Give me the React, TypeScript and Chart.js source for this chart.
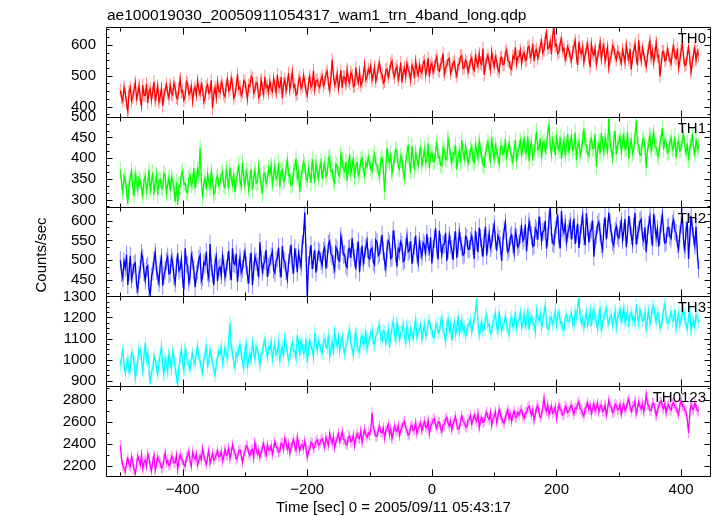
import { useEffect, useRef } from 'react';
import { Chart, registerables } from 'chart.js';

Chart.register(...registerables);

const TITLE = 'ae100019030_20050911054317_wam1_trn_4band_long.qdp';
const X_LABEL = 'Time [sec] 0 = 2005/09/11 05:43:17';
const Y_LABEL = 'Counts/sec';
const PANEL_NAMES = ['TH0', 'TH1', 'TH2', 'TH3', 'TH0123'];

// time bins: first bin time and bin width (sec)
const T_START = -500;
const T_STEP = 2;

const TH0 = [
  452, 431, 418, 463, 440, 412, 385, 448, 462, 419, 430, 455, 478, 426, 441, 468, 425, 403, 470, 437, 436, 474, 412, 449, 458, 422, 447, 480, 420, 441, 466, 415, 433, 459, 402, 437, 455, 471, 444, 428,
  470, 442, 438, 476, 461, 430, 425, 459, 490, 447, 452, 421, 433, 481, 475, 439, 446, 466, 418, 452, 463, 437, 484, 455, 440, 472, 457, 416, 428, 464, 471, 443, 449, 485, 395, 441, 462, 429, 480, 451,
  445, 479, 468, 439, 432, 470, 489, 451, 456, 492, 472, 428, 438, 466, 505, 458, 463, 436, 447, 484, 480, 453, 425, 469, 466, 498, 491, 444, 452, 478, 474, 430, 436, 487, 459, 441, 497, 462, 468, 446,
  482, 458, 449, 491, 470, 445, 503, 467, 461, 496, 428, 474, 488, 452, 476, 509, 455, 480, 512, 463, 470, 438, 443, 485, 494, 459, 466, 501, 481, 450, 437, 476, 498, 463, 472, 517, 455, 484, 486, 469,
  462, 488, 499, 467, 478, 506, 515, 474, 452, 493, 552, 501, 470, 482, 507, 459, 483, 518, 461, 497, 495, 473, 520, 486, 476, 511, 502, 465, 468, 527, 491, 478, 512, 469, 480, 503, 535, 486, 497, 521,
  510, 531, 486, 504, 527, 483, 498, 529, 541, 512, 505, 476, 482, 517, 522, 495, 514, 539, 548, 509, 496, 521, 530, 488, 507, 543, 478, 512, 525, 497, 540, 519, 511, 486, 533, 524, 492, 547, 518, 502,
  535, 516, 509, 542, 548, 503, 522, 557, 497, 531, 540, 511, 528, 549, 561, 519, 515, 537, 543, 572, 505, 526, 532, 553, 556, 508, 520, 541, 547, 514, 499, 536, 538, 562, 565, 523, 526, 550, 544, 512,
  530, 549, 558, 524, 517, 565, 547, 531, 571, 542, 536, 588, 503, 534, 552, 566, 540, 519, 577, 551, 529, 562, 548, 520, 512, 557, 560, 536, 538, 574, 583, 550, 545, 526, 521, 563, 556, 592, 539, 561,
  562, 583, 540, 566, 575, 549, 553, 591, 596, 560, 568, 604, 547, 579, 585, 557, 571, 598, 612, 574, 583, 621, 640, 588, 592, 610, 570, 631, 655, 596, 601, 572, 578, 606, 620, 581, 589, 553, 567, 594,
  582, 561, 548, 577, 596, 614, 563, 535, 610, 579, 571, 594, 544, 568, 588, 603, 559, 528, 602, 575, 566, 589, 538, 560, 581, 607, 555, 584, 598, 547, 570, 592, 527, 556, 563, 598, 590, 566, 552, 579,
  575, 556, 541, 584, 566, 543, 598, 570, 552, 587, 520, 559, 580, 602, 561, 534, 615, 573, 548, 590, 572, 549, 530, 566, 589, 612, 558, 581, 543, 571, 607, 562, 566, 498, 535, 577, 579, 548, 553, 586,
  568, 551, 540, 579, 597, 562, 555, 588, 526, 549, 582, 605, 560, 533, 538, 571, 592, 556, 512, 545, 571, 590, 550, 578, 566,
];

const TH1 = [
  372, 341, 318, 356, 345, 322, 290, 337, 352, 368, 330, 309, 361, 344, 325, 351, 343, 329, 310, 347, 356, 320, 334, 372, 322, 340, 365, 318, 338, 359, 312, 346, 349, 331, 327, 364, 358, 315, 336, 353,
  320, 354, 347, 328, 295, 341, 288, 333, 331, 360, 368, 337, 340, 319, 316, 352, 359, 335, 344, 376, 327, 349, 372, 358, 425, 346, 305, 339, 351, 324, 362, 343, 329, 366, 346, 312, 318, 350, 357, 334,
  341, 359, 366, 334, 329, 372, 352, 326, 378, 350, 337, 363, 318, 347, 360, 385, 345, 331, 390, 357, 333, 368, 356, 325, 349, 374, 323, 351, 371, 340, 342, 379, 358, 336, 314, 362, 364, 339, 347, 376,
  362, 383, 338, 357, 381, 349, 354, 389, 329, 367, 372, 343, 348, 376, 395, 358, 360, 334, 337, 371, 376, 399, 352, 365, 318, 353, 369, 391, 384, 350, 345, 375, 361, 340, 398, 370, 341, 387, 366, 352,
  375, 392, 349, 373, 388, 355, 362, 398, 404, 368, 371, 347, 340, 386, 382, 361, 357, 411, 396, 374, 368, 392, 345, 379, 410, 363, 377, 402, 352, 384, 389, 358, 366, 395, 401, 372, 358, 389, 380, 403,
  392, 375, 368, 401, 410, 387, 383, 364, 356, 395, 401, 378, 318, 372, 425, 396, 389, 412, 363, 384, 398, 422, 416, 380, 374, 405, 395, 369, 352, 391, 408, 433, 386, 370, 430, 398, 371, 414, 399, 383,
  406, 429, 383, 401, 421, 389, 397, 436, 375, 409, 414, 391, 392, 418, 438, 402, 404, 385, 381, 425, 419, 398, 396, 447, 427, 406, 388, 413, 410, 432, 373, 399, 416, 390, 444, 417, 399, 428, 411, 387,
  402, 418, 428, 395, 389, 432, 417, 401, 441, 420, 405, 385, 380, 414, 423, 439, 411, 394, 452, 416, 397, 431, 419, 403, 386, 427, 430, 409, 413, 446, 398, 421, 436, 412, 407, 390, 421, 444, 392, 415,
  425, 442, 404, 431, 446, 412, 418, 453, 392, 426, 437, 401, 413, 439, 465, 420, 422, 448, 399, 435, 441, 416, 427, 463, 480, 430, 410, 445, 433, 407, 456, 428, 419, 451, 398, 424, 444, 409, 428, 458,
  412, 437, 451, 419, 427, 462, 395, 428, 440, 406, 418, 445, 472, 433, 431, 411, 405, 439, 447, 424, 423, 458, 380, 421, 436, 410, 461, 434, 414, 449, 429, 417, 498, 438, 420, 401, 443, 466, 409, 432,
  438, 452, 415, 440, 455, 421, 426, 464, 399, 431, 443, 412, 422, 449, 491, 435, 430, 407, 408, 442, 447, 428, 376, 419, 433, 456, 418, 440, 462, 427, 425, 411, 404, 436, 450, 473, 421, 444, 437, 413,
  416, 439, 449, 420, 427, 452, 401, 433, 441, 418, 423, 446, 458, 429, 412, 436, 395, 424, 438, 455, 426, 409, 447, 421, 430,
];

const TH2 = [
  500, 468, 455, 497, 482, 514, 438, 471, 511, 452, 467, 489, 493, 440, 425, 463, 478, 517, 505, 470, 449, 481, 486, 429, 412, 458, 472, 499, 520, 474, 461, 443, 490, 507, 436, 462, 475, 498, 509, 466,
  468, 507, 496, 459, 442, 484, 518, 473, 479, 501, 453, 426, 530, 491, 487, 444, 461, 513, 499, 476, 432, 465, 475, 503, 512, 448, 458, 494, 489, 521, 470, 455, 541, 482, 466, 437, 494, 510, 447, 478,
  483, 462, 511, 490, 457, 479, 498, 524, 472, 450, 530, 493, 489, 516, 445, 481, 506, 468, 478, 502, 521, 487, 463, 441, 495, 519, 437, 474, 510, 496, 484, 457, 545, 503, 471, 489, 499, 526, 458, 483,
  490, 509, 522, 476, 468, 499, 505, 532, 481, 457, 536, 502, 497, 473, 452, 494, 514, 539, 488, 466, 530, 507, 470, 518, 503, 484, 541, 563, 620, 520, 409, 487, 512, 538, 478, 501, 525, 469, 496, 523,
  519, 498, 487, 524, 532, 479, 503, 541, 548, 517, 511, 490, 476, 533, 526, 501, 498, 560, 541, 514, 515, 488, 482, 527, 530, 506, 556, 520, 505, 477, 522, 547, 470, 509, 537, 494, 512, 531, 549, 507,
  503, 526, 531, 496, 489, 551, 545, 512, 518, 537, 564, 523, 497, 480, 527, 549, 542, 504, 508, 575, 553, 518, 484, 529, 522, 546, 538, 497, 501, 533, 559, 521, 525, 548, 491, 517, 536, 562, 515, 494,
  548, 527, 510, 544, 537, 519, 566, 534, 521, 558, 492, 529, 553, 581, 530, 502, 575, 543, 514, 539, 541, 569, 498, 526, 562, 540, 527, 501, 550, 573, 506, 532, 571, 548, 535, 513, 517, 560, 556, 528,
  528, 549, 561, 537, 503, 574, 547, 520, 582, 556, 533, 509, 555, 585, 512, 543, 568, 531, 541, 570, 590, 551, 524, 562, 553, 536, 498, 547, 576, 595, 545, 521, 530, 558, 564, 540, 519, 572, 557, 533,
  540, 565, 583, 549, 556, 590, 522, 561, 597, 576, 562, 535, 538, 581, 574, 552, 610, 586, 548, 571, 575, 599, 529, 558, 602, 633, 565, 544, 540, 577, 588, 615, 553, 530, 624, 581, 570, 593, 545, 567,
  579, 597, 552, 576, 605, 541, 566, 592, 531, 564, 590, 612, 560, 538, 618, 584, 545, 571, 577, 600, 509, 552, 563, 589, 596, 570, 541, 527, 582, 608, 553, 579, 620, 593, 568, 546, 537, 574, 585, 562,
  556, 579, 598, 551, 572, 604, 533, 566, 611, 587, 562, 541, 585, 619, 540, 563, 576, 598, 603, 558, 549, 583, 520, 565, 588, 609, 563, 536, 617, 590, 557, 578, 534, 561, 592, 614, 569, 543, 546, 581,
  583, 561, 555, 592, 602, 574, 568, 541, 528, 566, 590, 613, 548, 527, 575, 597, 503, 559, 612, 580, 560, 537, 584, 522, 478,
];

const TH3 = [
  970, 1012, 1048, 968, 935, 979, 1002, 941, 958, 1033, 1025, 986, 912, 957, 989, 1055, 1040, 997, 947, 1016, 1080, 1003, 1030, 961, 885, 944, 952, 1019, 998, 963, 930, 992, 1021, 1064, 975, 928, 1006, 981, 943, 1027,
  992, 955, 1037, 1008, 961, 921, 882, 964, 1015, 1049, 984, 947, 1052, 1019, 1001, 969, 953, 1006, 1029, 991, 978, 1035, 1063, 1011, 995, 958, 940, 1002, 1018, 1071, 970, 993, 1044, 1016, 987, 951, 926, 979, 1010, 1039,
  1025, 1061, 980, 1009, 1058, 1022, 1004, 1098, 1175, 1052, 1036, 985, 962, 1031, 1017, 1053, 1070, 1026, 991, 960, 1043, 1077, 958, 1004, 1028, 994, 1081, 1040, 1002, 1063, 1049, 1015, 973, 1024, 1033, 1072, 1096, 1038, 1012, 1059,
  1047, 1083, 1002, 1039, 1074, 1021, 1029, 1097, 988, 1045, 1061, 1014, 1105, 1068, 1034, 996, 1008, 1059, 1080, 1041, 1042, 1006, 1117, 1073, 1019, 1088, 1066, 1030, 1037, 1099, 985, 1054, 1092, 1063, 1050, 1012, 1128, 1079, 1043, 1087,
  1071, 1042, 1030, 1089, 1098, 1063, 1056, 1118, 1012, 1048, 1085, 1026, 1133, 1094, 1062, 1107, 1040, 1075, 1109, 1058, 1027, 1066, 1077, 1123, 1145, 1081, 1054, 1019, 1093, 1130, 1068, 1044, 1036, 1101, 1114, 1072, 1080, 1139, 1051, 1090,
  1096, 1124, 1140, 1079, 1072, 1113, 1118, 1154, 1165, 1101, 1088, 1137, 1131, 1075, 1102, 1145, 1057, 1109, 1149, 1183, 1115, 1092, 1178, 1141, 1093, 1126, 1136, 1168, 1110, 1083, 1162, 1120, 1084, 1147, 1127, 1099, 1151, 1190, 1106, 1134,
  1139, 1163, 1098, 1131, 1166, 1112, 1124, 1181, 1187, 1150, 1143, 1105, 1108, 1159, 1171, 1127, 1132, 1174, 1201, 1144, 1117, 1085, 1158, 1193, 1135, 1162, 1090, 1140, 1176, 1119, 1146, 1208, 1122, 1155, 1190, 1137, 1152, 1110, 1128, 1169,
  1163, 1186, 1131, 1158, 1197, 1222, 1290, 1171, 1116, 1149, 1180, 1136, 1145, 1201, 1212, 1159, 1168, 1125, 1127, 1184, 1195, 1219, 1155, 1133, 1230, 1178, 1138, 1162, 1174, 1209, 1162, 1141, 1118, 1192, 1203, 1156, 1170, 1227, 1149, 1183,
  1188, 1223, 1152, 1179, 1215, 1160, 1176, 1241, 1141, 1194, 1207, 1171, 1169, 1130, 1235, 1198, 1185, 1216, 1153, 1183, 1220, 1258, 1178, 1149, 1143, 1202, 1196, 1167, 1192, 1231, 1164, 1209, 1228, 1174, 1181, 1145, 1139, 1197, 1210, 1186,
  1182, 1203, 1219, 1174, 1160, 1229, 1201, 1246, 1295, 1208, 1173, 1195, 1148, 1187, 1226, 1163, 1190, 1234, 1157, 1212, 1238, 1191, 1179, 1144, 1205, 1251, 1133, 1176, 1197, 1222, 1244, 1188, 1168, 1206, 1211, 1165, 1185, 1230, 1152, 1196,
  1216, 1240, 1179, 1204, 1245, 1177, 1193, 1228, 1158, 1212, 1226, 1189, 1201, 1173, 1262, 1217, 1170, 1236, 1210, 1184, 1187, 1225, 1137, 1194, 1231, 1168, 1195, 1249, 1253, 1206, 1178, 1221, 1214, 1150, 1160, 1197, 1239, 1266, 1198, 1175,
  1172, 1208, 1225, 1183, 1189, 1236, 1150, 1191, 1217, 1164, 1196, 1220, 1242, 1186, 1167, 1145, 1204, 1232, 1138, 1174, 1185, 1156, 1213, 1198, 1178,
];

const TH0123 = [
  2385, 2262, 2205, 2178, 2150, 2231, 2268, 2214, 2195, 2284, 2242, 2167, 2130, 2209, 2290, 2251, 2215, 2303, 2176, 2236, 2253, 2199, 2310, 2272, 2198, 2154, 2237, 2295, 2164, 2221, 2282, 2246, 2226, 2183, 2190, 2261, 2318, 2229, 2249, 2204,
  2215, 2289, 2273, 2228, 2232, 2295, 2168, 2246, 2301, 2263, 2254, 2212, 2197, 2277, 2286, 2331, 2240, 2198, 2325, 2279, 2262, 2305, 2208, 2247, 2294, 2256, 2357, 2302, 2249, 2216, 2281, 2340, 2226, 2269, 2312, 2253, 2270, 2301, 2338, 2285,
  2289, 2331, 2246, 2283, 2352, 2297, 2305, 2362, 2268, 2320, 2391, 2344, 2317, 2262, 2279, 2336, 2346, 2300, 2233, 2291, 2328, 2385, 2374, 2318, 2295, 2342, 2351, 2273, 2412, 2356, 2310, 2338, 2276, 2325, 2367, 2402, 2329, 2294, 2388, 2347,
  2342, 2384, 2305, 2356, 2419, 2372, 2363, 2327, 2328, 2405, 2396, 2351, 2449, 2410, 2352, 2395, 2314, 2367, 2408, 2438, 2377, 2342, 2460, 2403, 2339, 2381, 2391, 2357, 2425, 2364, 2280, 2332, 2348, 2415, 2402, 2359, 2371, 2421, 2436, 2388,
  2398, 2431, 2447, 2409, 2372, 2458, 2425, 2386, 2491, 2437, 2406, 2469, 2368, 2415, 2453, 2493, 2419, 2452, 2510, 2440, 2437, 2402, 2390, 2461, 2471, 2418, 2428, 2480, 2385, 2444, 2494, 2457, 2446, 2517, 2413, 2475, 2528, 2482, 2459, 2501,
  2480, 2523, 2680, 2548, 2515, 2472, 2467, 2529, 2560, 2506, 2498, 2544, 2453, 2517, 2539, 2574, 2484, 2532, 2447, 2503, 2560, 2526, 2511, 2566, 2476, 2520, 2549, 2588, 2605, 2545, 2522, 2478, 2487, 2553, 2571, 2519, 2533, 2590, 2494, 2541,
  2559, 2590, 2518, 2565, 2601, 2556, 2547, 2609, 2493, 2553, 2582, 2617, 2626, 2572, 2541, 2598, 2594, 2546, 2509, 2568, 2573, 2621, 2640, 2585, 2561, 2603, 2528, 2579, 2612, 2647, 2575, 2534, 2536, 2599, 2653, 2611, 2588, 2562, 2549, 2614,
  2621, 2654, 2578, 2612, 2660, 2628, 2604, 2673, 2550, 2609, 2636, 2595, 2598, 2658, 2683, 2637, 2619, 2680, 2567, 2626, 2647, 2689, 2592, 2642, 2711, 2665, 2633, 2601, 2586, 2650, 2668, 2710, 2627, 2664, 2603, 2656, 2695, 2640, 2641, 2685,
  2662, 2698, 2709, 2655, 2631, 2677, 2686, 2724, 2740, 2693, 2658, 2706, 2612, 2668, 2721, 2745, 2683, 2639, 2652, 2730, 2812, 2716, 2697, 2751, 2664, 2710, 2738, 2676, 2689, 2734, 2633, 2692, 2755, 2711, 2702, 2660, 2671, 2739, 2726, 2684,
  2695, 2731, 2748, 2706, 2669, 2725, 2717, 2756, 2781, 2714, 2703, 2679, 2650, 2719, 2735, 2770, 2709, 2747, 2672, 2716, 2762, 2700, 2724, 2768, 2686, 2738, 2750, 2691, 2701, 2752, 2659, 2713, 2793, 2740, 2731, 2682, 2690, 2759, 2744, 2708,
  2712, 2754, 2668, 2720, 2757, 2699, 2726, 2771, 2805, 2740, 2693, 2733, 2739, 2786, 2674, 2722, 2778, 2736, 2715, 2762, 2686, 2744, 2843, 2759, 2747, 2700, 2701, 2767, 2763, 2718, 2652, 2705, 2729, 2774, 2788, 2731, 2716, 2760, 2681, 2737,
  2754, 2721, 2703, 2762, 2770, 2735, 2728, 2689, 2664, 2749, 2795, 2742, 2739, 2706, 2690, 2612, 2498, 2680, 2752, 2719, 2711, 2768, 2735, 2702, 2695,
];

const SERIES = [TH0, TH1, TH2, TH3, TH0123];
// 1-sigma error per bin for each band (counts/sec)
const ERR = [22, 20, 23, 33, 50];

const X_RANGE = [-523, 448];
const X_MAJOR = [-400, -200, 0, 200, 400];
const X_MINOR = [-500, -300, -100, 100, 300];

const Y_RANGES = [
  [367, 658],
  [283, 500],
  [409, 635],
  [874, 1300],
  [2110, 2920],
];
const Y_MAJOR = [
  [400, 500, 600],
  [300, 350, 400, 450, 500],
  [450, 500, 550, 600],
  [900, 1000, 1100, 1200, 1300],
  [2200, 2400, 2600, 2800],
];
const Y_MINOR_STEP = [25, 50 / 3, 50 / 3, 25, 100];

const COLORS = ['#ff0000', '#00ff00', '#0000ff', '#00ffff', '#ff00ff'];
const ERR_COLORS = [
  'rgba(255,0,0,0.45)',
  'rgba(0,255,0,0.45)',
  'rgba(0,0,255,0.45)',
  'rgba(0,255,255,0.45)',
  'rgba(255,0,255,0.45)',
];

const FONT = 'Liberation Sans, Arial, Helvetica, sans-serif';

const qdpPlugin = {
  id: 'qdpFrame',
  beforeDatasetsDraw(chart: any) {
    const ctx = chart.ctx;
    const xs = chart.scales.x;
    SERIES.forEach((vals, k) => {
      const ys = chart.scales['y' + k];
      ctx.save();
      ctx.beginPath();
      ctx.rect(xs.left, ys.top, xs.right - xs.left, ys.bottom - ys.top);
      ctx.clip();
      ctx.strokeStyle = ERR_COLORS[k];
      ctx.lineWidth = 1;
      ctx.beginPath();
      vals.forEach((v, i) => {
        const px = xs.getPixelForValue(T_START + i * T_STEP);
        ctx.moveTo(px, ys.getPixelForValue(v + ERR[k]));
        ctx.lineTo(px, ys.getPixelForValue(v - ERR[k]));
      });
      ctx.stroke();
      ctx.restore();
    });
  },
  afterDraw(chart: any) {
    const ctx = chart.ctx;
    const xs = chart.scales.x;
    const L = Math.round(xs.left) + 0.5;
    const R = Math.round(xs.right) - 0.5;
    ctx.save();
    ctx.strokeStyle = '#000';
    ctx.lineWidth = 1;
    for (let k = 0; k < 5; k++) {
      const ys = chart.scales['y' + k];
      const T = Math.round(ys.top) + 0.5;
      const B = Math.round(ys.bottom) + 0.5;
      ctx.beginPath();
      ctx.rect(L, T, R - L, B - T);
      const xt = (v: number, len: number) => {
        const px = Math.round(xs.getPixelForValue(v)) + 0.5;
        ctx.moveTo(px, T);
        ctx.lineTo(px, T + len);
        ctx.moveTo(px, B);
        ctx.lineTo(px, B - len);
      };
      X_MAJOR.forEach((v) => xt(v, 7));
      X_MINOR.forEach((v) => xt(v, 4));
      const yt = (v: number, len: number) => {
        const py = Math.round(ys.getPixelForValue(v)) + 0.5;
        ctx.moveTo(L, py);
        ctx.lineTo(L + len, py);
        ctx.moveTo(R, py);
        ctx.lineTo(R - len, py);
      };
      const [mn, mx] = Y_RANGES[k];
      const st = Y_MINOR_STEP[k];
      const base = Y_MAJOR[k][0];
      for (let j = Math.ceil((mn - base) / st - 1e-6); base + j * st <= mx + 1e-6; j++) {
        const v = base + j * st;
        const isMajor = Y_MAJOR[k].some((m) => Math.abs(m - v) < 1e-6);
        yt(v, isMajor ? 6 : 3);
      }
      ctx.stroke();

      ctx.fillStyle = '#000';
      ctx.font = `15px ${FONT}`;
      ctx.textAlign = 'right';
      ctx.textBaseline = 'alphabetic';
      ctx.fillText(PANEL_NAMES[k], 706, ys.top + 16);
    }
    ctx.fillStyle = '#000';
    ctx.font = `15.5px ${FONT}`;
    ctx.textAlign = 'left';
    ctx.textBaseline = 'alphabetic';
    ctx.fillText(TITLE, 107, 20);

    ctx.font = `15px ${FONT}`;
    ctx.fillText(X_LABEL, 276, 512);

    ctx.save();
    ctx.translate(46, 255);
    ctx.rotate(-Math.PI / 2);
    ctx.textAlign = 'center';
    ctx.textBaseline = 'alphabetic';
    ctx.fillText(Y_LABEL, 0, 0);
    ctx.restore();
    ctx.restore();
  },
};

export default function App() {
  const ref = useRef<HTMLCanvasElement | null>(null);
  useEffect(() => {
    if (!ref.current) return;
    const datasets = SERIES.map((vals, k) => ({
      label: PANEL_NAMES[k],
      data: vals.map((v, i) => ({ x: T_START + i * T_STEP, y: v })),
      yAxisID: 'y' + k,
      borderColor: COLORS[k],
      backgroundColor: COLORS[k],
      borderWidth: 1.3,
      pointRadius: 0,
      tension: 0,
      fill: false,
      clip: 0,
    }));
    const scales: any = {
      x: {
        type: 'linear',
        position: 'bottom',
        min: X_RANGE[0],
        max: X_RANGE[1],
        grid: { display: false, drawTicks: false },
        border: { display: false },
        afterBuildTicks: (s: any) => {
          s.ticks = X_MAJOR.map((v) => ({ value: v }));
        },
        afterFit: (s: any) => {
          s.height = 40;
        },
        ticks: {
          autoSkip: false,
          maxRotation: 0,
          padding: 5,
          color: '#000',
          font: { family: FONT, size: 15 },
          callback: (v: any) => String(v).replace('-', '\u2212'),
        },
      },
    };
    for (let k = 0; k < 5; k++) {
      scales['y' + k] = {
        type: 'linear',
        position: 'left',
        stack: 'panels',
        stackWeight: 1,
        weight: 10 - k,
        min: Y_RANGES[k][0],
        max: Y_RANGES[k][1],
        grid: { display: false, drawTicks: false },
        border: { display: false },
        afterBuildTicks: (s: any) => {
          s.ticks = Y_MAJOR[k].map((v) => ({ value: v }));
        },
        afterFit: (s: any) => {
          s.width = 106;
        },
        ticks: {
          autoSkip: false,
          padding: 10,
          color: '#000',
          font: { family: FONT, size: 15 },
          callback: (v: any) => String(v),
        },
      };
    }
    const chart = new Chart(ref.current, {
      type: 'line',
      data: { datasets },
      options: {
        responsive: false,
        animation: false,
        events: [],
        layout: { padding: { top: 27, right: 6, left: 0, bottom: 0 } },
        plugins: {
          legend: { display: false },
          tooltip: { enabled: false },
          title: { display: false },
        },
        scales,
      },
      plugins: [qdpPlugin],
    });
    return () => chart.destroy();
  }, []);
  return (
    <div style={{ position: 'fixed', left: 0, top: 0, width: 717, height: 516, background: '#fff' }}>
      <canvas ref={ref} width={717} height={516} />
    </div>
  );
}
